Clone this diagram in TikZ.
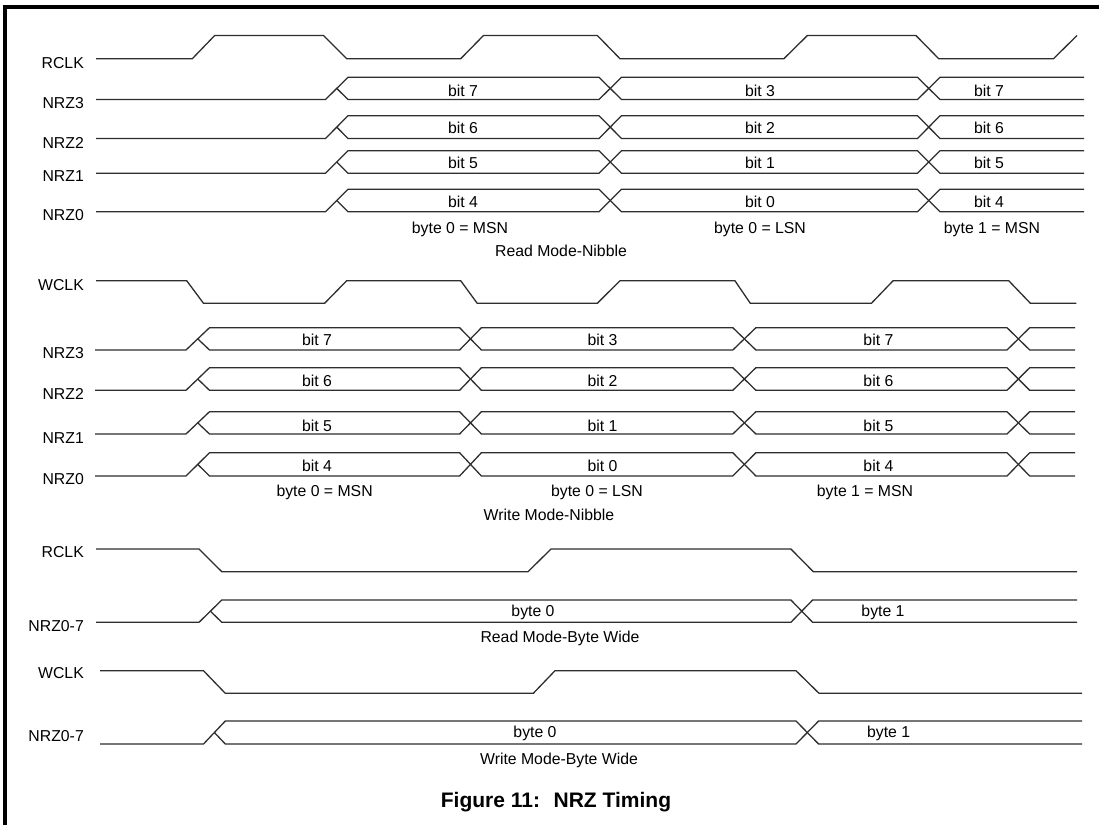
\documentclass[tikz,border=0pt]{standalone}
\usepackage{fontspec}
\setmainfont{Liberation Sans}
\newcommand{\rdrow}[2]{%
  \draw[sig] (96,#2)--(325.5,#2)--(348,#1)--(599,#1)--(621.5,#2)--(917.5,#2)--(940,#1)--(1084,#1);
  \draw[sig] (336.75,{(#1+#2)/2})--(348,#2)--(599,#2)--(621.5,#1)--(917.5,#1)--(940,#2)--(1084,#2);}
\newcommand{\wrrow}[2]{%
  \draw[sig] (95,#2)--(186,#2)--(209.5,#1)--(459.6,#1)--(481.4,#2)--(732.8,#2)--(755.9,#1)--(1007,#1)--(1029.7,#2)--(1075,#2);
  \draw[sig] (197.75,{(#1+#2)/2})--(209.5,#2)--(459.6,#2)--(481.4,#1)--(732.8,#1)--(755.9,#2)--(1007,#2)--(1029.7,#1)--(1075,#1);}
\begin{document}
\begin{tikzpicture}[x=1pt,y=-1pt,
  sig/.style={line width=1.3pt, black!82, line join=miter},
  lbl/.style={anchor=east, inner sep=0pt, text height=11.3pt, text depth=0pt, font=\fontsize{15.8}{18}\selectfont},
  txt/.style={inner sep=0pt, text height=11.3pt, text depth=0pt, font=\fontsize{15.8}{18}\selectfont},
  ttl/.style={inner sep=0pt, text height=15pt, text depth=0pt, font=\fontsize{21}{24}\selectfont\bfseries},
  framestyle/.style={line width=4pt, black}]
\useasboundingbox (0,0) rectangle (1099,825);
\fill[white] (0,0) rectangle (1099,825);
% frame (partial box)
\draw[framestyle] (5.3,825) -- (5.3,6.5) -- (1099,6.5);

% ===== Read Mode-Nibble =====
\node[lbl] (l-rclk1) at (84,63.3) {RCLK};
\node[lbl] (l-r3) at (84,102.7) {NRZ3};
\node[lbl] (l-r2) at (84,142.7) {NRZ2};
\node[lbl] (l-r1) at (84,176) {NRZ1};
\node[lbl] (l-r0) at (84,215) {NRZ0};
\draw[sig] (96,58.7)--(192.3,58.7)--(214.7,35.5)--(323.5,35.5)--(346.7,58.7)--(460.7,58.7)--(483.5,35.5)--(597.3,35.5)--(620,58.7)--(783.9,58.7)--(807.4,35.5)--(915.9,35.5)--(938.7,58.7)--(1053.5,58.7)--(1077,35.5);
\rdrow{77.3}{99.5}
\rdrow{115.7}{138.5}
\rdrow{150.7}{173.3}
\rdrow{189.3}{211.8}
\node[txt] (r3a) at (463,90.7) {bit 7};
\node[txt] (r3b) at (760,90.7) {bit 3};
\node[txt] (r3c) at (989,90.7) {bit 7};
\node[txt] (r2a) at (463,128.3) {bit 6};
\node[txt] (r2b) at (760,128.3) {bit 2};
\node[txt] (r2c) at (989,128.3) {bit 6};
\node[txt] (r1a) at (463,163.3) {bit 5};
\node[txt] (r1b) at (760,163.3) {bit 1};
\node[txt] (r1c) at (989,163.3) {bit 5};
\node[txt] (r0a) at (463,201.7) {bit 4};
\node[txt] (r0b) at (760,201.7) {bit 0};
\node[txt] (r0c) at (989,201.7) {bit 4};
\node[txt] (rbA) at (460,228) {byte 0 = MSN};
\node[txt] (rbB) at (760,228) {byte 0 = LSN};
\node[txt] (rbC) at (992,228) {byte 1 = MSN};
\node[txt] (rmode) at (561,251) {Read Mode-Nibble};

% ===== Write Mode-Nibble =====
\node[lbl] (l-wclk1) at (84,285) {WCLK};
\node[lbl] (l-w3) at (84,353.3) {NRZ3};
\node[lbl] (l-w2) at (84,394.3) {NRZ2};
\node[lbl] (l-w1) at (84,438.3) {NRZ1};
\node[lbl] (l-w0) at (84,479.3) {NRZ0};
\draw[sig] (96,280.7)--(186.7,280.7)--(203.5,303.3)--(324.6,303.3)--(346.7,280.7)--(460.7,280.7)--(477.2,303.3)--(597.3,303.3)--(620,280.7)--(734.9,280.7)--(750.3,303.3)--(871.4,303.3)--(893.1,280.7)--(1008.7,280.7)--(1030.4,303.3)--(1076.3,303.3);
\wrrow{327.7}{350}
\wrrow{367.7}{390.3}
\wrrow{411.7}{434}
\wrrow{452.7}{476}
\node[txt] (w3a) at (317,340) {bit 7};
\node[txt] (w3b) at (602.5,340) {bit 3};
\node[txt] (w3c) at (878.4,340) {bit 7};
\node[txt] (w2a) at (317,380.7) {bit 6};
\node[txt] (w2b) at (602.5,380.7) {bit 2};
\node[txt] (w2c) at (878.4,380.7) {bit 6};
\node[txt] (w1a) at (317,425.7) {bit 5};
\node[txt] (w1b) at (602.5,425.7) {bit 1};
\node[txt] (w1c) at (878.4,425.7) {bit 5};
\node[txt] (w0a) at (317,465.7) {bit 4};
\node[txt] (w0b) at (602.5,465.7) {bit 0};
\node[txt] (w0c) at (878.4,465.7) {bit 4};
\node[txt] (wbA) at (324.6,490.7) {byte 0 = MSN};
\node[txt] (wbB) at (597,490.7) {byte 0 = LSN};
\node[txt] (wbC) at (865,490.7) {byte 1 = MSN};
\node[txt] (wmode) at (549,515) {Write Mode-Nibble};

% ===== Read Mode-Byte Wide =====
\node[lbl] (l-rclk2) at (84,551.7) {RCLK};
\node[lbl] (l-rb) at (84,626) {NRZ0-7};
\draw[sig] (96,549)--(199,549)--(221.8,571.7)--(528,571.7)--(551,549)--(790.9,549)--(813.3,571.7)--(1077,571.7);
\draw[sig] (96,622.3)--(199,622.3)--(221.8,600)--(790.9,600)--(812.6,622.3)--(1077,622.3);
\draw[sig] (210.4,611.15)--(221.8,622.3)--(790.9,622.3)--(812.6,600)--(1077,600);
\node[txt] (rb0) at (533,611) {byte 0};
\node[txt] (rb1) at (883,611) {byte 1};
\node[txt] (rbmode) at (560,636.7) {Read Mode-Byte Wide};

% ===== Write Mode-Byte Wide =====
\node[lbl] (l-wclk2) at (84,673.3) {WCLK};
\node[lbl] (l-wb) at (84,735.5) {NRZ0-7};
\draw[sig] (100,670.7)--(203.5,670.7)--(225.3,693.3)--(533.3,693.3)--(555,670.7)--(796,670.7)--(819,693.3)--(1082,693.3);
\draw[sig] (100,744)--(203.5,744)--(225.3,721)--(796,721)--(818.6,744)--(1082,744);
\draw[sig] (214.4,732.5)--(225.3,744)--(796,744)--(818.6,721)--(1082,721);
\node[txt] (wb0) at (535,732) {byte 0};
\node[txt] (wb1) at (888.6,732) {byte 1};
\node[txt] (wbmode) at (559,759) {Write Mode-Byte Wide};

% ===== Title =====
\node[ttl] (title) at (556,800) {Figure 11:~ NRZ Timing};
\end{tikzpicture}
\end{document}
